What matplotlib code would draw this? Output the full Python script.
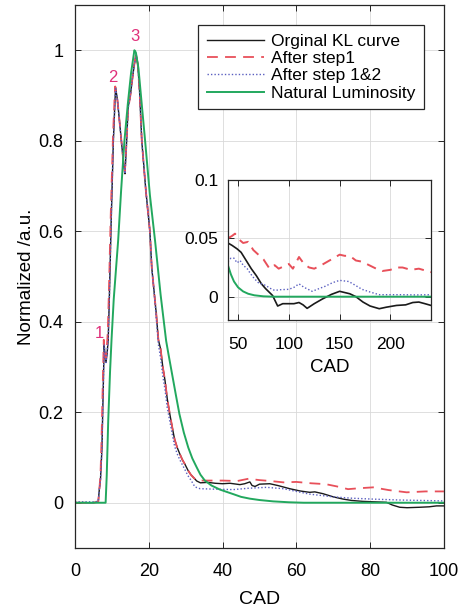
import matplotlib
matplotlib.use("Agg")
import matplotlib.pyplot as plt

plt.rcParams['font.family'] = ['Liberation Sans', 'DejaVu Sans']

# ---- main panel data (CAD 0..100) ----
cad_kl = [0, 5, 6.3, 6.6, 6.9, 7.3, 7.7, 7.9, 8.1, 8.4, 8.7, 9.0, 9.3, 9.8, 10.4, 10.8, 11.0,
          11.5, 12.1, 12.8, 13.3, 13.55, 14.0, 14.4, 15.0, 15.6, 16.1, 16.6, 17.0, 17.5,
          18.1, 19.2, 20.3, 20.8, 21.4, 22.0, 22.6, 23.2, 23.8, 24.4, 25.0, 25.7, 26.4,
          27.0, 27.7, 28.4, 29.1, 29.8, 30.6, 31.4, 32.2, 33.0, 34, 36, 38, 40, 42, 44.7,
          46, 47.4, 48.0, 48.8, 50, 52.8, 55, 58.2, 61, 63.6, 65, 67.2, 70, 72.7, 75, 78,
          81, 84.4, 86, 88, 90, 93.5, 96, 98, 100]
kl_orig = [0, 0, 0.002, 0.03, 0.05, 0.12, 0.27, 0.35, 0.33, 0.31, 0.33, 0.36, 0.45, 0.62,
           0.80, 0.88, 0.918, 0.89, 0.84, 0.78, 0.74, 0.727, 0.80, 0.874, 0.90, 0.94, 0.97,
           0.99, 0.97, 0.91, 0.80, 0.69, 0.60, 0.52, 0.47, 0.42, 0.36, 0.34, 0.30, 0.27,
           0.23, 0.196, 0.165, 0.14, 0.122, 0.108, 0.095, 0.085, 0.072, 0.062, 0.055, 0.048,
           0.044, 0.045, 0.043, 0.042, 0.043, 0.040, 0.042, 0.046, 0.038, 0.036, 0.041,
           0.042, 0.038, 0.031, 0.026, 0.023, 0.024, 0.020, 0.013, 0.008, 0.005, 0.003,
           0.002, 0.001, -0.005, -0.010, -0.011, -0.010, -0.009, -0.007, -0.007]

cad_s1 = [0, 5, 6.3, 6.6, 6.9, 7.2, 7.6, 7.8, 8.0, 8.3, 8.6, 8.9, 9.2, 9.7, 10.3, 10.7,
          10.9, 11.5, 12.1, 12.8, 13.3, 13.5, 14.0, 14.4, 15.0, 15.6, 16.1, 16.5, 17.0,
          17.5, 18.1, 19.2, 20.3, 20.8, 21.4, 22.0, 22.6, 23.2, 23.8, 24.4, 25.0, 25.7,
          26.4, 27.0, 27.7, 28.4, 29.1, 29.8, 30.6, 31.4, 32.2, 33.0, 36, 40, 44, 47,
          50, 53, 56.5, 60, 64, 68, 71, 74, 77, 80.8, 85, 89.9, 95, 100]
kl_step1 = [0, 0, 0.002, 0.03, 0.06, 0.14, 0.29, 0.36, 0.34, 0.32, 0.34, 0.38, 0.47, 0.64,
            0.81, 0.89, 0.92, 0.89, 0.84, 0.78, 0.74, 0.73, 0.80, 0.87, 0.90, 0.94, 0.97,
            0.99, 0.97, 0.91, 0.80, 0.69, 0.60, 0.52, 0.47, 0.42, 0.36, 0.34, 0.30, 0.27,
            0.23, 0.196, 0.165, 0.14, 0.122, 0.108, 0.095, 0.085, 0.072, 0.062, 0.055,
            0.049, 0.049, 0.049, 0.048, 0.053, 0.050, 0.048, 0.045, 0.046, 0.043, 0.041,
            0.036, 0.030, 0.032, 0.034, 0.028, 0.023, 0.025, 0.025]

cad_s12 = [0, 5, 6.3, 6.6, 6.9, 7.3, 7.7, 7.9, 8.1, 8.4, 8.7, 9.0, 9.3, 9.8, 10.4, 10.8,
           11.0, 11.5, 12.1, 12.8, 13.3, 13.55, 14.0, 14.4, 15.0, 15.6, 16.1, 16.6, 17.0,
           17.5, 18.1, 19.2, 20.3, 20.8, 21.4, 22.0, 22.6, 23.2, 23.8, 24.4, 25.0, 25.7,
           26.4, 27.0, 27.7, 28.4, 29.1, 29.8, 30.6, 31.5, 32.5, 33.9, 38, 42.9, 47,
           51.9, 56.5, 60, 63.6, 70, 75, 80.8, 88, 94, 100]
kl_step12 = [0.002, 0.002, 0.003, 0.03, 0.05, 0.12, 0.27, 0.35, 0.33, 0.31, 0.33, 0.36,
             0.45, 0.62, 0.80, 0.88, 0.915, 0.89, 0.84, 0.78, 0.74, 0.727, 0.80, 0.87,
             0.90, 0.94, 0.97, 0.99, 0.97, 0.91, 0.80, 0.69, 0.60, 0.52, 0.47, 0.41, 0.35,
             0.32, 0.28, 0.25, 0.21, 0.18, 0.15, 0.125, 0.108, 0.095, 0.084, 0.073, 0.060,
             0.049, 0.035, 0.031, 0.030, 0.029, 0.032, 0.034, 0.031, 0.025, 0.019, 0.013,
             0.010, 0.008, 0.006, 0.005, 0.004]

cad_nl = [0, 8.3, 8.6, 9.0, 9.5, 9.9, 10.5, 11.7, 12.5, 13.4, 14.3, 15.2, 16.1, 16.5,
          17.2, 18.1, 19.0, 20.3, 21.7, 23.2, 24.7, 25.3, 26.3, 27.3, 28.3, 29.5, 30.7,
          31.8, 33.0, 34.0, 35.2, 37.0, 39.3, 42.9, 45, 47.4, 50, 53.7, 58, 62, 100]
nat_lum = [0, 0, 0.06, 0.18, 0.29, 0.36, 0.45, 0.58, 0.69, 0.80, 0.88, 0.95, 1.0, 0.995,
           0.96, 0.88, 0.80, 0.68, 0.579, 0.46, 0.358, 0.33, 0.285, 0.24, 0.196, 0.155,
           0.122, 0.098, 0.078, 0.062, 0.049, 0.038, 0.029, 0.019, 0.013, 0.009, 0.006,
           0.003, 0.001, 0, 0]

# ---- inset data (CAD 40..240) ----
cad_kl_z = [40, 44, 49, 53, 58, 63, 68, 73, 77, 84, 89, 94, 100, 105, 110, 114, 118, 125,
            133, 142, 150, 160, 166, 173, 180, 189, 196, 206, 215, 222, 228, 234, 240]
kl_orig_z = [0.046, 0.044, 0.041, 0.038, 0.031, 0.024, 0.018, 0.011, 0.007, 0.001,
             -0.008, -0.006, -0.006, -0.006, -0.005, -0.007, -0.010, -0.006, -0.002,
             0.002, 0.0046, 0.0025, 0.0, -0.0046, -0.008, -0.0103, -0.009, -0.0075,
             -0.007, -0.005, -0.0046, -0.006, -0.0075]

cad_s1_z = [40, 44, 47, 51, 55, 60, 65, 70, 75, 81, 86, 90, 95, 100, 104, 110, 115, 120,
            125, 132, 140, 150, 155, 160, 166, 172, 179, 186, 192, 200, 206, 212, 220,
            228, 236, 240]
kl_step1_z = [0.050, 0.052, 0.054, 0.049, 0.046, 0.047, 0.040, 0.036, 0.032, 0.024,
              0.027, 0.024, 0.026, 0.028, 0.024, 0.034, 0.028, 0.025, 0.024, 0.027,
              0.031, 0.036, 0.035, 0.035, 0.031, 0.030, 0.027, 0.024, 0.022, 0.023,
              0.025, 0.025, 0.023, 0.024, 0.022, 0.021]

cad_s12_z = [40, 43, 46, 49, 52, 55, 59, 62, 66, 70, 77, 82, 86, 92, 100, 105, 110, 115,
             123, 130, 136, 143, 150, 159, 165, 172, 180, 189, 200, 212, 225, 240]
kl_step12_z = [0.030, 0.033, 0.033, 0.029, 0.031, 0.027, 0.024, 0.020, 0.0155, 0.012,
               0.0097, 0.007, 0.0054, 0.006, 0.0063, 0.008, 0.011, 0.008, 0.0046, 0.007,
               0.009, 0.012, 0.014, 0.013, 0.010, 0.0063, 0.004, 0.0017, 0.0017, 0.0017,
               0.0015, 0.0017]

cad_nl_z = [40, 43, 46, 50, 55, 60, 66, 75, 85, 240]
nat_lum_z = [0.027, 0.019, 0.013, 0.008, 0.0045, 0.0025, 0.0012, 0.0003, 0, 0]

labels = ['Orginal KL curve', 'After step1', 'After step 1&2', 'Natural Luminosity']
peak_marks = [('1', 6.5, 0.373), ('2', 10.3, 0.94), ('3', 16.3, 1.03)]

c_kl, c_s1, c_s12, c_nl = '#1a1a1a', '#e8505a', '#5a5fc0', '#22a85e'
frame = '#262626'


def style_axes(ax, size, xpad, ypad):
    for sp in ax.spines.values():
        sp.set_color(frame)
        sp.set_linewidth(0.9)
    ax.tick_params(direction='in', top=True, right=True, length=4, width=0.7,
                   color=frame, labelsize=size)
    ax.tick_params(axis='x', pad=xpad)
    ax.tick_params(axis='y', pad=ypad)
    ax.grid(True, color='#d9d9d9', linewidth=0.6)
    ax.set_axisbelow(True)


fig = plt.figure(figsize=(4.67, 6.09), dpi=100)
ax = fig.add_axes([0.1606, 0.1002, 0.790, 0.8916])

ax.plot(cad_kl, kl_orig, color=c_kl, lw=1.0, label=labels[0])
ax.plot(cad_s1, kl_step1, color=c_s1, lw=1.3, ls=(0, (6, 4)), label=labels[1])
ax.plot(cad_s12, kl_step12, color=c_s12, lw=1.0, ls=(0, (1, 1.5)), label=labels[2])
ax.plot(cad_nl, nat_lum, color=c_nl, lw=1.4, label=labels[3])

for txt, xx, yy in peak_marks:
    ax.text(xx, yy, txt, color='#e0307a', fontsize=12, ha='center', va='center')

ax.set_xlim(0, 100)
ax.set_ylim(-0.1, 1.1)
ax.set_xticks([0, 20, 40, 60, 80, 100])
ax.set_yticks([0, 0.2, 0.4, 0.6, 0.8, 1])
ax.set_yticklabels(['0', '0.2', '0.4', '0.6', '0.8', '1'])
style_axes(ax, 13, 11, 8.5)
ax.set_xlabel('CAD', fontsize=14, labelpad=8)
ax.set_ylabel('Normalized /a.u.', fontsize=13.5, labelpad=2)

leg = ax.legend(loc='upper right', bbox_to_anchor=(0.946, 0.963), fontsize=12.5,
                handlelength=3.3, handletextpad=0.4, labelspacing=0.12, borderpad=0.5,
                borderaxespad=0, fancybox=False, framealpha=1, edgecolor=frame)
leg.get_frame().set_linewidth(0.9)

# inset
axi = fig.add_axes([0.488, 0.4745, 0.435, 0.23])
axi.plot(cad_kl_z, kl_orig_z, color=c_kl, lw=1.2)
axi.plot(cad_s1_z, kl_step1_z, color=c_s1, lw=1.4, ls=(0, (5, 3.5)))
axi.plot(cad_s12_z, kl_step12_z, color=c_s12, lw=1.0, ls=(0, (1, 1.5)))
axi.plot(cad_nl_z, nat_lum_z, color=c_nl, lw=1.4)
axi.set_xlim(40, 240)
axi.set_ylim(-0.02, 0.1)
axi.set_xticks([50, 100, 150, 200])
axi.set_yticks([0, 0.05, 0.1])
axi.set_yticklabels(['0', '0.05', '0.1'])
style_axes(axi, 12.5, 12, 7)
axi.set_xlabel('CAD', fontsize=13.5, labelpad=5)

fig.savefig('out.png', dpi=100)
